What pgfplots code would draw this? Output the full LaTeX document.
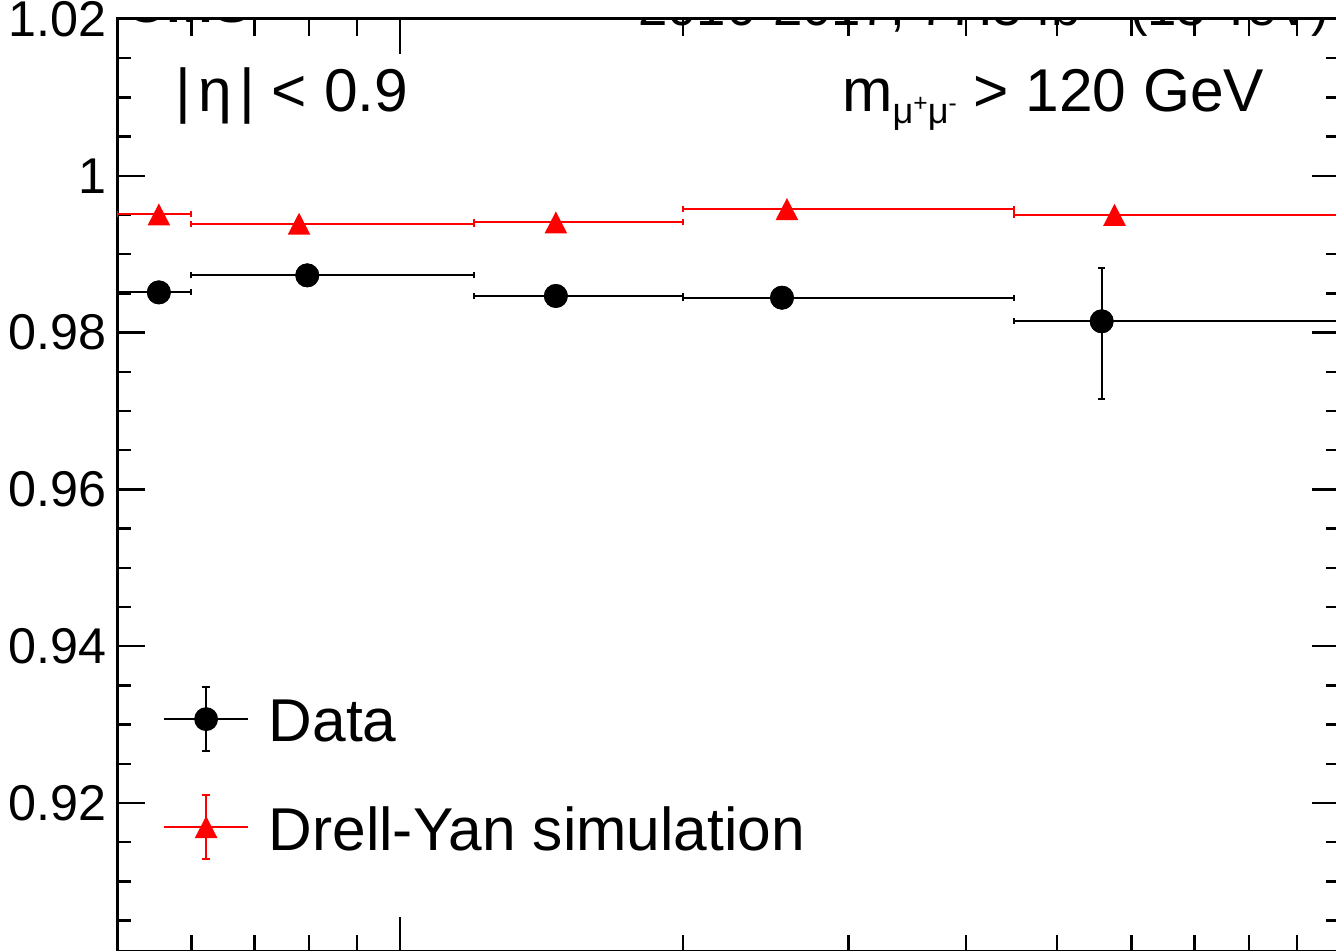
\documentclass[border=0pt]{standalone}
\usepackage{pgfplots}
\pgfplotsset{compat=1.18}
\usepackage{fontspec}
\setmainfont{Liberation Sans}

% ROOT-like triangle, centred on its box
\pgfdeclareplotmark{rtri}{%
  \pgfpathmoveto{\pgfpoint{0mm}{1.1mm}}%
  \pgfpathlineto{\pgfpoint{1.13mm}{-1.1mm}}%
  \pgfpathlineto{\pgfpoint{-1.13mm}{-1.1mm}}%
  \pgfpathclose
  \pgfusepathqfill}

\pgfplotsset{
  xerr/.style={error bars/.cd, x dir=both, x explicit, error mark=|,
      error bar style={line width=0.2mm, #1},
      error mark options={line width=0.2mm, mark size=0.3mm, #1}},
  yerr/.style={error bars/.cd, y dir=both, y explicit, error mark=|,
      error bar style={line width=0.2mm, #1},
      error mark options={line width=0.2mm, mark size=0.37mm, #1}},
}

\begin{document}
\begin{tikzpicture}
\begin{axis}[
    scale only axis,
    width=122.3mm, height=93.3mm,
    at={(11.7mm,-0.1mm)}, anchor=south west,
    xmode=log, xmin=50, xmax=1000,
    ymin=0.901, ymax=1.02,
    ytick={0.92,0.94,0.96,0.98,1,1.02},
    minor ytick={0.905,0.91,0.915,0.925,0.93,0.935,0.945,0.95,0.955,
                 0.965,0.97,0.975,0.985,0.99,0.995,1.005,1.01,1.015},
    xticklabels={},
    tick align=inside,
    major tick length=2.8mm, minor tick length=1.4mm,
    xtick style={/pgfplots/major tick length=3.5mm, /pgfplots/minor tick length=1.7mm},
    axis line style={line width=0.3mm},
    tick style={black, line width=0.25mm},
    yticklabel style={font=\fontsize{14.3pt}{17pt}\selectfont,
        /pgf/number format/fixed, /pgf/number format/precision=2,
        /pgf/number format/assume math mode=true,
        inner sep=0pt, xshift=-1mm},
]

% Data: bin widths, then statistical errors
\addplot[black, only marks, mark=*, mark size=1.12mm, xerr=black]
coordinates {
    (55.4,0.98513)  += (4.6,0)   -= (5.4,0)
    (79.7,0.98730)  += (40.3,0)  -= (19.7,0)
    (146.5,0.98467) += (53.5,0)  -= (26.5,0)
    (254.9,0.98445) += (195.1,0) -= (54.9,0)
    (557.8,0.98144) += (442.2,0) -= (107.8,0)
};
\addplot[black, only marks, mark=*, mark size=1.12mm, yerr=black]
coordinates {
    (55.4,0.98513)  +- (0,0.0008)
    (79.7,0.98730)  +- (0,0.0008)
    (146.5,0.98467) +- (0,0.0008)
    (254.9,0.98445) +- (0,0.0008)
    (557.8,0.98144) += (0,0.00684) -= (0,0.00985)
};

% Drell-Yan simulation
\addplot[red, only marks, mark=rtri, xerr=red]
coordinates {
    (55.4,0.99507)  += (4.6,0)   -= (5.4,0)
    (78.1,0.99389)  += (41.9,0)  -= (18.1,0)
    (146.5,0.99405) += (53.5,0)  -= (26.5,0)
    (258.0,0.99576) += (192.0,0) -= (58.0,0)
    (575.6,0.99503) += (424.4,0) -= (125.6,0)
};

% legend, drawn in the axis
\addplot[black, line width=0.2mm, no marks] coordinates {(56.1,0.9307) (68.9,0.9307)};
\addplot[black, only marks, mark=*, mark size=1.12mm, yerr=black]
    coordinates {(62.2,0.9307) +- (0,0.0041)};
\addplot[red, line width=0.2mm, no marks] coordinates {(56.1,0.91694) (68.9,0.91694)};
\addplot[red, only marks, mark=rtri, yerr=red]
    coordinates {(62.2,0.91694) +- (0,0.0041)};

\node[anchor=base west, inner sep=0pt, font=\fontsize{17.2pt}{20pt}\selectfont]
    at (rel axis cs:0.1235,0.2251) {Data};
\node[anchor=base west, inner sep=0pt, font=\fontsize{17.2pt}{20pt}\selectfont]
    at (rel axis cs:0.1235,0.1093) {Drell-Yan simulation};

\node[anchor=base west, inner sep=0pt, font=\fontsize{17.2pt}{20pt}\selectfont]
    at (rel axis cs:0.0474,0.901) {|\hspace{0.12em}η\hspace{0.12em}| < 0.9};
\node[anchor=base east, inner sep=0pt, font=\fontsize{17.2pt}{20pt}\selectfont]
    at (rel axis cs:0.9387,0.901)
    {m\raisebox{-1.2mm}{\fontsize{10.3pt}{11pt}\selectfont μ\raisebox{1.2mm}{\fontsize{7pt}{7pt}\selectfont +}μ\raisebox{1.2mm}{\fontsize{7pt}{7pt}\selectfont -}} > 120 GeV};
\node[anchor=base west, inner sep=0pt, font=\fontsize{16pt}{19pt}\bfseries\selectfont]
    at (rel axis cs:0.0065,0.9957) {CMS};
\node[anchor=base east, inner sep=0pt, font=\fontsize{15pt}{18pt}\selectfont]
    at (rel axis cs:0.9918,0.9925) {2016-2017, 77.3 fb\textsuperscript{-1} (13 TeV)};
\end{axis}
\pgfresetboundingbox
\path[use as bounding box] (0,0) rectangle (133.6mm,95.1mm);
\end{tikzpicture}
\end{document}
